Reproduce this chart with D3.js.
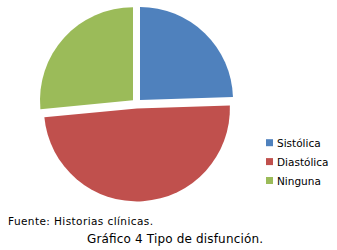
<!DOCTYPE html>
<html><head><meta charset="utf-8">
<script src="https://cdn.jsdelivr.net/npm/d3@7"></script>
<style>html,body{margin:0;padding:0;background:#fff;}svg{display:block;}</style>
</head><body>
<svg id="c" width="337" height="250"></svg>
<script>
const categories = ["Sistólica", "Diastólica", "Ninguna"];
const values = [12, 24, 13];
const colors = ["#4F81BD", "#C0504D", "#9BBB59"];
const sourceText = "Fuente: Historias clínicas.";
const captionText = "Gráfico 4 Tipo de disfunción.";

const svg = d3.select("#c");
const cx = 136.6, cy = 103.5, r = 93, explode = 4.9;
const pie = d3.pie().sort(null).value(d => d)(values);
const arc = d3.arc().innerRadius(0).outerRadius(r);
const g = svg.append("g").attr("transform", `translate(${cx},${cy})`);
g.selectAll("path").data(pie).join("path")
  .attr("d", arc)
  .attr("fill", (d, i) => colors[i])
  .attr("transform", d => {
    const a = (d.startAngle + d.endAngle) / 2;
    return `translate(${Math.sin(a) * explode},${-Math.cos(a) * explode})`;
  });

const font = "DejaVu Sans, Verdana, sans-serif";
const leg = svg.append("g");
const ly = d3.scalePoint().domain(categories).range([142.7, 180.5]);
categories.forEach((c, i) => {
  leg.append("rect").attr("x", 266).attr("y", ly(c) - 3.5).attr("width", 7).attr("height", 7).attr("fill", colors[i]);
  leg.append("text").attr("x", 277).attr("y", ly(c) + 4).attr("font-family", font).attr("font-size", 10.5).attr("fill", "#000").text(c);
});
svg.append("text").attr("x", 8).attr("y", 224.5).attr("font-family", font).attr("font-size", 10.5)
  .attr("textLength", 145).attr("lengthAdjust", "spacing").attr("fill", "#000").text(sourceText);
svg.append("text").attr("x", 87).attr("y", 242.5).attr("font-family", font).attr("font-size", 12)
  .attr("textLength", 176).attr("lengthAdjust", "spacing").attr("fill", "#000").text(captionText);
</script>
</body></html>
